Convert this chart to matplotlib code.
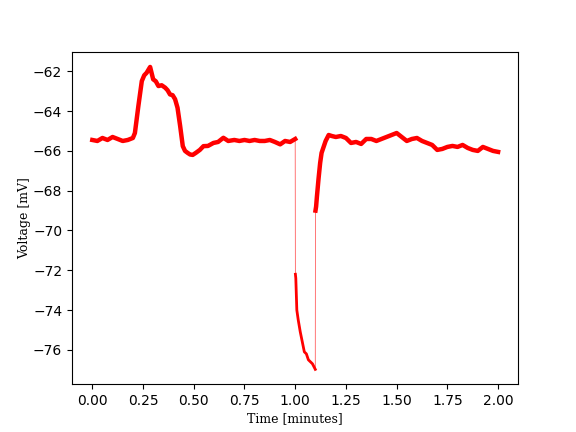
import numpy as np
import matplotlib
matplotlib.use("Agg")
import matplotlib.pyplot as plt

# Values (time in minutes, voltage in mV)
time_pre = [0.00, 0.025, 0.05, 0.075, 0.10, 0.125, 0.15, 0.175, 0.20, 0.21, 0.227, 0.244,
            0.256, 0.268, 0.285, 0.30, 0.313, 0.326, 0.342, 0.359, 0.371, 0.383, 0.396,
            0.408, 0.42, 0.433, 0.446, 0.457, 0.47, 0.482, 0.495, 0.51, 0.53, 0.548,
            0.57, 0.597, 0.62, 0.646, 0.67, 0.70, 0.725, 0.75, 0.775, 0.80, 0.825, 0.85,
            0.875, 0.90, 0.926, 0.95, 0.975, 1.00]
volt_pre = [-65.45, -65.5, -65.35, -65.45, -65.3, -65.4, -65.5, -65.45, -65.35, -65.1, -63.75,
            -62.49, -62.2, -62.07, -61.78, -62.4, -62.5, -62.74, -62.7, -62.82, -62.95, -63.16,
            -63.2, -63.4, -63.83, -64.75, -65.76, -66.0, -66.1, -66.18, -66.2, -66.1, -65.95,
            -65.76, -65.75, -65.6, -65.55, -65.34, -65.5, -65.45, -65.5, -65.45, -65.5, -65.45,
            -65.5, -65.5, -65.45, -65.55, -65.67, -65.5, -65.55, -65.4]

time_trough = [1.001, 1.003, 1.008, 1.015, 1.025, 1.035, 1.045, 1.055, 1.065, 1.075,
               1.085, 1.095, 1.099]
volt_trough = [-72.2, -72.4, -74.0, -74.5, -75.1, -75.6, -76.1, -76.2, -76.5, -76.6,
               -76.7, -76.9, -76.98]

time_post = [1.100, 1.103, 1.107, 1.115, 1.123, 1.13, 1.14, 1.15, 1.165, 1.18, 1.20, 1.225,
             1.25, 1.275, 1.30, 1.325, 1.35, 1.375, 1.40, 1.425, 1.45, 1.475, 1.50, 1.525,
             1.55, 1.575, 1.60, 1.625, 1.65, 1.675, 1.70, 1.725, 1.75, 1.775, 1.80, 1.825,
             1.85, 1.875, 1.90, 1.925, 1.95, 1.975, 2.00]
volt_post = [-69.0, -68.8, -68.3, -67.4, -66.6, -66.1, -65.8, -65.5, -65.2, -65.25, -65.3,
             -65.25, -65.35, -65.6, -65.55, -65.65, -65.4, -65.4, -65.5, -65.4, -65.3, -65.2,
             -65.1, -65.3, -65.5, -65.4, -65.35, -65.5, -65.6, -65.7, -65.95, -65.9, -65.8,
             -65.75, -65.8, -65.7, -65.85, -65.95, -66.0, -65.8, -65.9, -66.0, -66.05]

t_all = np.array(time_pre + time_trough + time_post)
v_all = np.array(volt_pre + volt_trough + volt_post)

fig, ax = plt.subplots(figsize=(5.76, 4.32), dpi=100)

# full trace, thin (shows the fast jumps as thin lines)
ax.plot(t_all, v_all, color="#ff6060", lw=0.6)
# slowly varying parts, noise band thickness
ax.plot(time_pre, volt_pre, color="red", lw=3.2, solid_joinstyle="round")
ax.plot(time_trough, volt_trough, color="red", lw=2.0, solid_joinstyle="round")
ax.plot(time_post, volt_post, color="red", lw=3.2, solid_joinstyle="round")

ax.set_xlabel("Time [minutes]", family="serif", fontsize=9, labelpad=2.5)
ax.set_ylabel("Voltage [mV]", family="serif", fontsize=9, labelpad=1.5)
ax.set_xticks([0.0, 0.25, 0.5, 0.75, 1.0, 1.25, 1.5, 1.75, 2.0])
ax.set_yticks([-76, -74, -72, -70, -68, -66, -64, -62])

fig.savefig("out.png", dpi=100)
